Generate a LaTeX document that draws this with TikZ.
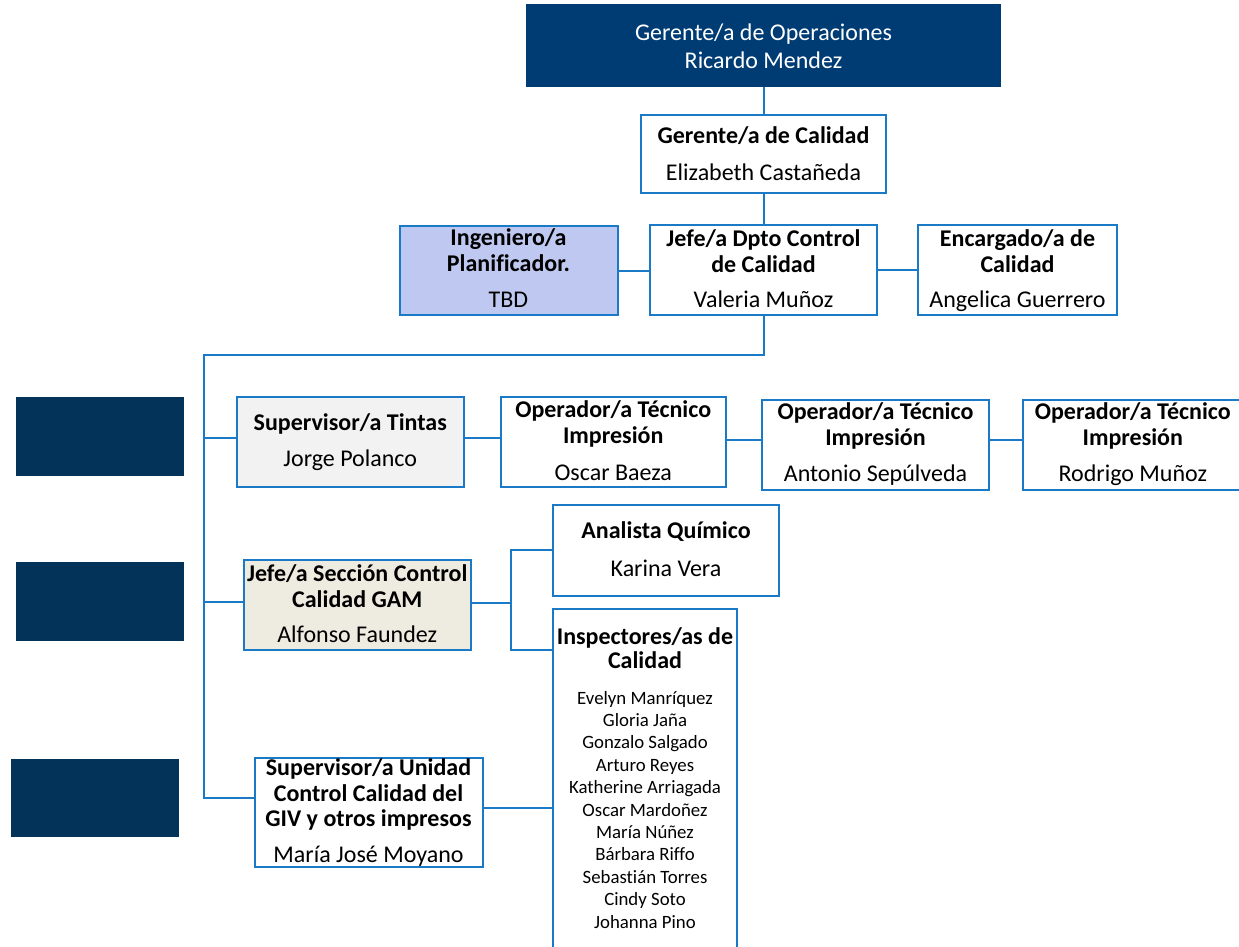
\documentclass[tikz,border=0pt]{standalone}
\usepackage{fontspec}
\setmainfont{Carlito}[Ligatures={NoCommon,NoDiscretionary,NoRare}]
\definecolor{lineblue}{RGB}{26,122,200}
\definecolor{topblue}{RGB}{0,60,116}
\definecolor{darkblue}{RGB}{3,51,88}
\definecolor{lavender}{RGB}{191,200,240}
\definecolor{lightgrayfill}{RGB}{242,242,242}
\definecolor{beigefill}{RGB}{238,236,225}
\tikzset{
 box/.style={draw=lineblue, line width=2pt, fill=white, inner sep=0pt},
 solidbox/.style={fill=#1, draw=none, inner sep=0pt},
 conn/.style={draw=lineblue, line width=2pt},
 tt/.style={anchor=base, inner sep=0pt, font=\fontsize{24}{26}\selectfont\bfseries},
 nm/.style={anchor=base, inner sep=0pt, font=\fontsize{24}{26}\selectfont},
 sm/.style={anchor=base, inner sep=0pt, font=\fontsize{18.8}{20}\selectfont},
}
\begin{document}
\begin{tikzpicture}[x=1pt,y=-1pt]
\useasboundingbox (0,0) rectangle (1239,946);
\clip (0,0) rectangle (1239,946);
\fill[white] (0,0) rectangle (1239,946);

% boxes
\node[solidbox=topblue, minimum width=475pt, minimum height=83pt] (top) at (763.5,45.5) {};
\node[box, minimum width=245pt, minimum height=77.5pt] (gcal) at (763.5,153.75) {};
\node[box, fill=lavender, minimum width=218pt, minimum height=89pt] (ing) at (508.5,270.5) {};
\node[box, minimum width=227pt, minimum height=90pt] (jefe) at (763.5,270) {};
\node[box, minimum width=199pt, minimum height=90pt] (enc) at (1017.5,270) {};
\node[box, fill=lightgrayfill, minimum width=226.5pt, minimum height=90pt] (sup) at (350.25,442) {};
\node[box, minimum width=225.5pt, minimum height=90.5pt] (op1) at (613.25,441.75) {};
\node[box, minimum width=227pt, minimum height=90.5pt] (op2) at (875.5,444.75) {};
\node[box, minimum width=227pt, minimum height=90.5pt] (op3) at (1136.5,444.75) {};
\node[solidbox=darkblue, minimum width=168.5pt, minimum height=79pt] (d1) at (99.75,436.5) {};
\node[solidbox=darkblue, minimum width=168.5pt, minimum height=79pt] (d2) at (99.75,601.5) {};
\node[solidbox=darkblue, minimum width=168pt, minimum height=78pt] (d3) at (95,798) {};
\node[box, fill=beigefill, minimum width=227.5pt, minimum height=90.5pt] (jsec) at (357.25,604.75) {};
\node[box, minimum width=226pt, minimum height=90.5pt] (anal) at (666,550.25) {};
\node[box, minimum width=184pt, minimum height=351.5pt] (insp) at (645,784.25) {};
\node[box, minimum width=228pt, minimum height=109pt] (supu) at (368.5,812.5) {};

% connectors
\coordinate (ta) at (204,355);
\coordinate (tb) at (204,797.5);
\coordinate (sj) at (511,603.3);
\coordinate (sk) at (511,649.5);
\draw[conn] (top.south) -- (gcal.north);
\draw[conn] (gcal.south) -- (jefe.north);
\draw[conn] (ing.east) -- (ing.east -| jefe.west);
\draw[conn] (jefe.east) -- (jefe.east -| enc.west);
\draw[conn] (jefe.south) |- (ta) -- (tb) -- (tb -| supu.west);
\draw[conn] ([yshift=4pt]sup.west) -- ([yshift=4pt]sup.west -| ta);
\draw[conn] ([yshift=4pt]sup.east) -- ([yshift=4pt]sup.east -| op1.west);
\draw[conn] ([yshift=1.5pt]op1.east) -- ([yshift=1.5pt]op1.east -| op2.west);
\draw[conn] ([yshift=4.5pt]op2.east) -- ([yshift=4.5pt]op2.east -| op3.west);
\draw[conn] ([yshift=2.5pt]jsec.west) -- ([yshift=2.5pt]jsec.west -| ta);
\draw[conn] (jsec.east |- sj) -- (sj);
\draw[conn] (anal.west) -| (sk) -- (sk -| insp.west);
\draw[conn] (supu.east |- 0,808) -- (insp.west |- 0,808);

% texts
\node[nm, text=white] (t-top1) at (763.5,40) {Gerente/a de Operaciones};
\node[nm, text=white] (t-top2) at (763.5,68) {Ricardo Mendez};
\node[tt] (t-gcal1) at (763.5,143.5) {Gerente/a de Calidad};
\node[nm] (t-gcal2) at (763.5,180) {Elizabeth Castañeda};
\node[tt] (t-ing1) at (508.5,245) {Ingeniero/a};
\node[tt] (t-ing2) at (508.5,271.7) {Planificador.};
\node[nm] (t-ing3) at (508.5,307.7) {TBD};
\node[tt] (t-jefe1) at (763.5,246) {Jefe/a Dpto Control};
\node[tt] (t-jefe2) at (763.5,272.3) {de Calidad};
\node[nm] (t-jefe3) at (763.5,307.7) {Valeria Muñoz};
\node[tt] (t-enc1) at (1017.5,246) {Encargado/a de};
\node[tt] (t-enc2) at (1017.5,272.3) {Calidad};
\node[nm] (t-enc3) at (1017.5,307.7) {Angelica Guerrero};
\node[tt] (t-sup1) at (350.25,430.7) {Supervisor/a Tintas};
\node[nm] (t-sup2) at (350.25,466.7) {Jorge Polanco};
\node[tt] (t-op1a) at (613.25,417.3) {Operador/a Técnico};
\node[tt] (t-op1b) at (613.25,443.3) {Impresión};
\node[nm] (t-op1c) at (613.25,480) {Oscar Baeza};
\node[tt] (t-op2a) at (875.5,419.3) {Operador/a Técnico};
\node[tt] (t-op2b) at (875.5,445) {Impresión};
\node[nm] (t-op2c) at (875.5,481.7) {Antonio Sepúlveda};
\node[tt] (t-op3a) at (1132.8,419.3) {Operador/a Técnico};
\node[tt] (t-op3b) at (1132.8,445) {Impresión};
\node[nm] (t-op3c) at (1132.8,481.7) {Rodrigo Muñoz};
\node[tt] (t-jsec1) at (357.25,581.7) {Jefe/a Sección Control};
\node[tt] (t-jsec2) at (357.25,607.3) {Calidad GAM};
\node[nm] (t-jsec3) at (357.25,642.7) {Alfonso Faundez};
\node[tt] (t-anal1) at (666,538.3) {Analista Químico};
\node[nm] (t-anal2) at (666,576.7) {Karina Vera};
\node[tt] (t-insp1) at (645,644) {Inspectores/as de};
\node[tt] (t-insp2) at (645,668) {Calidad};
\foreach \n [count=\i from 0] in {Evelyn Manríquez, Gloria Jaña, Gonzalo Salgado, Arturo Reyes, Katherine Arriagada, Oscar Mardoñez, María Núñez, Bárbara Riffo, Sebastián Torres, Cindy Soto, Johanna Pino}
  \node[sm] (t-name\i) at (645,704+22.4*\i) {\n};
\node[tt] (t-supu1) at (368.5,775.7) {Supervisor/a Unidad};
\node[tt] (t-supu2) at (368.5,801.7) {Control Calidad del};
\node[tt] (t-supu3) at (368.5,826.7) {GIV y otros impresos};
\node[nm] (t-supu4) at (368.5,862.7) {María José Moyano};
\end{tikzpicture}
\end{document}
